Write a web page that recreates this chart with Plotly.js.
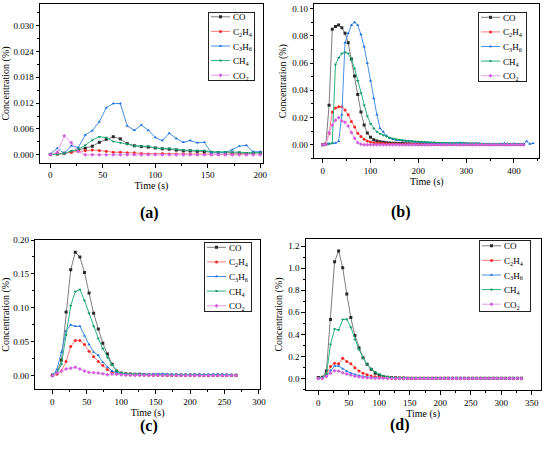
<!DOCTYPE html>
<html><head><meta charset="utf-8">
<script src="https://cdn.plot.ly/plotly-3.0.1.min.js"></script>
<style>html,body{margin:0;padding:0;background:#fff}#chart{width:550px;height:455px}</style>
</head><body><div id="chart"></div>
<script>
// time stamps (s), sampling interval ~6.67 s
const time = [0,6.7,13.3,20,26.7,33.3,40,46.7,53.3,60,66.7,73.3,80,86.7,93.3,100,106.7,113.3,120,126.7,133.3,140,146.7,153.3,160,166.7,173.3,180,186.7,193.3,200,206.7,213.3,220,226.7,233.3,240,246.7,253.3,260,266.7,273.3,280,286.7,293.3,300,306.7,313.3,320,326.7,333.3,340,346.7,353.3,360,366.7,373.3,380,386.7,393.3,400,406.7,413.3,420,426.7,433.3,440];

const seriesNames = ['CO','C<sub>2</sub>H<sub>4</sub>','C<sub>3</sub>H<sub>6</sub>','CH<sub>4</sub>','CO<sub>2</sub>'];

// (a)
const aCO   = [0.0001,0.0002,0.0004,0.0007,0.0011,0.0015,0.0020,0.0029,0.0036,0.0042,0.0037,0.0026,0.0021,0.0019,0.0018,0.0016,0.0014,0.0013,0.0011,0.0009,0.0009,0.0008,0.0007,0.0006,0.0005,0.0005,0.0004,0.0004,0.0003,0.0004,0.0005];
const aC2H4 = [0.0001,0.0002,0.0003,0.0006,0.0008,0.0010,0.0011,0.0010,0.0008,0.0006,0.0006,0.0005,0.0005,0.0003,0.0002,0.0002,0.0003,0.0002,0.0002,0.0002,0.0002,0.0001,0.0001,0.0001,0.0001,0.0001,0.0001,0.0001,0.0001];
const aC3H6 = [0.0002,0.0015,0.0003,0.0021,0.0017,0.0046,0.0056,0.0077,0.0109,0.0119,0.0119,0.0067,0.0057,0.0069,0.0057,0.0040,0.0033,0.0050,0.0038,0.0029,0.0033,0.0028,0.0029,0.0005,0.0005,0.0005,0.0012,0.0020,0.0022,0.0007,0.0007];
const aCH4  = [0.0001,0.0001,0.0003,0.0009,0.0013,0.0022,0.0034,0.0042,0.0040,0.0031,0.0028,0.0025,0.0021,0.0020,0.0020,0.0016,0.0015,0.0015,0.0013,0.0011,0.0010,0.0010,0.0010,0.0007,0.0007,0.0007,0.0006,0.0006,0.0005,0.0005,0.0005];
const aCO2  = [0.0000,0.0006,0.0044,0.0028,0.0008,0.0000,0.0000,0.0000,0.0000,0.0000,0.0000,0.0000,0.0000,0.0000,0.0000,0.0000,0.0000,0.0000,0.0000,0.0000,0.0000,0.0000,0.0000,0.0000,0.0000,0.0000,0.0000,0.0000,0.0000,0.0000,0.0000];

// (b)
const bCO   = [0,0.0005,0.029,0.085,0.087,0.088,0.086,0.082,0.075,0.063,0.0506,0.037,0.024,0.0145,0.0086,0.0054,0.0037,0.0028,0.0022,0.0018,0.0015,0.0013,0.0011,0.0010,0.0009,0.0008,0.0007,0.0007,0.0006,0.0006,0.0005,
               0.0005,0.0005,0.0004,0.0004,0.0004,0.0004,0.0004,0.0004,0.0004,0.0003,0.0003,0.0003,0.0003,0.0003,0.0003,0.0003,0.0003,0.0003,0.0003,0.0002,0.0002,0.0002,0.0002,0.0002,0.0002,0.0002,0.0002,0.0002,0.0002,0.0002,0.0002,0.0002,0.0002];
const bC2H4 = [0,0.0005,0.008,0.024,0.027,0.028,0.028,0.0255,0.022,0.017,0.013,0.0085,0.006,0.004,0.0028,0.002,0.0015,0.0012,0.0010,0.0008,0.0007,0.0006,0.0005,0.0005,0.0004,0.0004,0.0004,0.0003,0.0003,0.0003,0.0003,
               0.0002,0.0002,0.0002,0.0002,0.0002,0.0002,0.0002,0.0002,0.0002,0.0002,0.0002,0.0002,0.0002,0.0002,0.0002,0.0001,0.0001,0.0001,0.0001,0.0001,0.0001,0.0001,0.0001,0.0001,0.0001,0.0001,0.0001,0.0001,0.0001,0.0001,0.0001,0.0001,0.0001];
const bC3H6 = [0,0.0003,0.0008,0.0010,0.0012,0.0025,0.022,0.075,0.082,0.088,0.090,0.088,0.081,0.072,0.060,0.047,0.034,0.022,0.012,0.0095,0.0065,0.0050,0.0040,0.0035,0.0033,0.0030,0.0030,0.0028,0.0025,0.0022,0.0020,
               0.0018,0.0016,0.0015,0.0015,0.0014,0.0013,0.0012,0.0011,0.0011,0.0010,0.0010,0.0012,0.0015,0.0012,0.0010,0.0009,0.0008,0.0008,0.0008,0.0007,0.0007,0.0007,0.0006,0.0006,0.0006,0.0008,0.0010,0.0007,0.0006,0.0008,0.0006,0.0005,0.0005,0.0025,0.0005,0.0010];
const bCH4  = [0,0.0002,0.0005,0.0010,0.059,0.064,0.067,0.068,0.067,0.063,0.056,0.047,0.038,0.029,0.021,0.0155,0.012,0.0095,0.008,0.007,0.006,0.0052,0.0045,0.0040,0.0036,0.0033,0.0030,0.0028,0.0026,0.0024,0.0022,
               0.0020,0.0019,0.0018,0.0017,0.0016,0.0015,0.0014,0.0013,0.0013,0.0012,0.0011,0.0011,0.0010,0.0010,0.0009,0.0009,0.0008,0.0008,0.0008,0.0007,0.0007,0.0007,0.0006,0.0006,0.0006,0.0006,0.0005,0.0005,0.0005,0.0005,0.0004,0.0004,0.0004];
const bCO2  = [0,0.0003,0.009,0.0145,0.018,0.020,0.0175,0.0165,0.0137,0.009,0.0048,0.0015,0.0003,0,0,0,0,0,0,0,0,0,0,0,0,0,0,0,0,0,0,
               0,0,0,0,0,0,0,0,0,0,0,0,0,0,0,0,0,0,0,0,0,0,0,0,0,0,0,0,0,0,0,0,0];

// (c)
const cCO   = [0.001,0.004,0.023,0.094,0.156,0.182,0.175,0.152,0.122,0.092,0.069,0.048,0.032,0.017,0.007,0.004,0.003,0.0025,0.002,0.002,0.0018,0.0016,0.0015,0.0014,0.0013,0.0012,0.0012,0.0011,0.0010,0.0010,0.0010,0.0009,0.0009,0.0008,0.0008,0.0008,0.0007,0.0007,0.0007,0.0006,0.0006];
const cC2H4 = [0,0.002,0.007,0.021,0.043,0.052,0.052,0.046,0.036,0.028,0.021,0.015,0.009,0.005,0.003,0.002,0.0015,0.0012,0.0010,0.0009,0.0008,0.0007,0.0006,0.0006,0.0005,0.0005,0.0004,0.0004,0.0004,0.0003,0.0003,0.0003,0.0003,0.0002,0.0002,0.0002,0.0002,0.0002,0.0002,0.0002,0.0002];
const cC3H6 = [0,0.009,0.035,0.066,0.075,0.073,0.073,0.059,0.046,0.035,0.030,0.020,0.013,0.007,0.0045,0.003,0.0025,0.002,0.002,0.0018,0.0015,0.0018,0.0020,0.0025,0.0030,0.0022,0.0020,0.0018,0.0015,0.0015,0.0015,0.0018,0.0020,0.0020,0.0018,0.0020,0.0025,0.0020,0.0018,0.0015];
const cCH4  = [0,0.004,0.017,0.060,0.103,0.124,0.127,0.111,0.092,0.073,0.055,0.040,0.027,0.016,0.007,0.004,0.003,0.0025,0.002,0.0018,0.0016,0.0015,0.0014,0.0013,0.0012,0.0011,0.0010,0.0010,0.0009,0.0009,0.0008,0.0008,0.0007,0.0007,0.0007,0.0006,0.0006,0.0006,0.0005,0.0005,0.0005];
const cCO2  = [0,0.004,0.007,0.010,0.011,0.0125,0.010,0.007,0.005,0.0045,0.004,0.003,0.0015,0.0025,0.002,0.0015,0.0010,0.0010,0.0008,0.0008,0.0007,0.0007,0.0006,0.0006,0.0006,0.0005,0.0005,0.0005,0.0005,0.0004,0.0004,0.0004,0.0004,0.0004,0.0003,0.0003,0.0003,0.0003,0.0003,0.0003,0.0003];

// (d)
const dCO   = [0.010,0.012,0.070,0.535,1.058,1.155,1.004,0.765,0.553,0.390,0.280,0.190,0.130,0.085,0.050,0.030,0.020,0.014,0.010,0.008,0.007,0.006,0.005,0.005,0.004,0.004,0.004,
               0.003,0.003,0.003,0.003,0.003,0.003,0.003,0.003,0.003,0.003,0.003,0.003,0.003,0.003,0.003,0.003,0.003,0.003,0.003,0.003,0.003,0.003,0.003,0.003];
const dC2H4 = [0.003,0.005,0.040,0.110,0.140,0.135,0.185,0.155,0.135,0.100,0.070,0.050,0.035,0.025,0.017,0.012,0.008,0.006,0.005,0.004,0.004,0.003,0.003,
               0.002,0.002,0.002,0.002,0.002,0.002,0.002,0.002,0.002,0.002,0.002,0.002,0.002,0.002,0.002,0.002,0.002,0.002,0.002,0.002,0.002,0.002,0.002,0.002,0.002,0.002,0.002,0.002];
const dC3H6 = [0.002,0.004,0.025,0.075,0.115,0.115,0.090,0.068,0.050,0.037,0.028,0.020,0.014,0.010,0.007,0.005,0.004,0.003,0.003,
               0.002,0.002,0.002,0.002,0.002,0.002,0.002,0.002,0.002,0.002,0.002,0.002,0.002,0.002,0.002,0.002,0.002,0.002,0.002,0.002,0.002,0.002,0.002,0.002,0.002,0.002,0.002,0.002,0.002,0.002,0.002,0.002];
const dCH4  = [0.005,0.010,0.040,0.310,0.450,0.440,0.535,0.537,0.465,0.355,0.265,0.190,0.130,0.090,0.060,0.040,0.025,0.017,0.012,0.009,0.007,0.006,0.005,0.005,0.004,0.004,
               0.003,0.003,0.003,0.003,0.003,0.003,0.003,0.003,0.003,0.003,0.003,0.003,0.003,0.003,0.003,0.003,0.003,0.003,0.003,0.003,0.003,0.003,0.003,0.003,0.003];
const dCO2  = [0.001,0.003,0.020,0.050,0.072,0.068,0.054,0.042,0.032,0.022,0.016,0.011,0.008,0.006,0.004,0.003,0.003,
               0.002,0.002,0.002,0.002,0.002,0.002,0.002,0.002,0.002,0.002,0.002,0.002,0.002,0.002,0.002,0.002,0.002,0.002,0.002,0.002,0.002,0.002,0.002,0.002,0.002,0.002,0.002,0.002,0.002,0.002,0.002,0.002,0.002,0.002];

const panelLabels = ['(a)','(b)','(c)','(d)'];

// styles
const lineColors   = ['rgb(125,125,125)','rgb(255,125,125)','rgb(70,145,230)','rgb(40,180,125)','rgb(232,160,236)'];
const markerColors = ['rgb(40,40,40)','rgb(245,40,40)','rgb(30,110,220)','rgb(15,150,100)','rgb(210,95,222)'];
const symbols = ['square','circle','triangle-up','triangle-down','diamond'];
const SERIF = 'Liberation Serif, Times New Roman, serif';

const W = 550, H = 455;
const panels = [
  {ax:'',  leg:'legend',  data:[aCO,aC2H4,aC3H6,aCH4,aCO2],
   box:[40,263,4,163],   xr:[-9.8,202.6], yr:[-0.0019,0.0350], xd:50, yd:0.006, yfmt:'.3f', legBox:[208,12,46,68], lab:[138,213]},
  {ax:'2', leg:'legend2', data:[bCO,bC2H4,bC3H6,bCH4,bCO2],
   box:[314.3,539.3,4,158.3], xr:[-17.6,453], yr:[-0.010,0.1035], xd:100, yd:0.02, yfmt:'.2f', legBox:[478,12,48,69], lab:[413,212]},
  {ax:'3', leg:'legend3', data:[cCO,cC2H4,cC3H6,cCH4,cCO2],
   box:[35.3,260,240,389.3], xr:[-24.7,301.5], yr:[-0.02,0.20], xd:50, yd:0.05, yfmt:'.2f', legBox:[204,242,47,69], lab:[138,437]},
  {ax:'4', leg:'legend4', data:[dCO,dC2H4,dC3H6,dCH4,dCO2],
   box:[305.7,540.7,238.7,390.3], xr:[-20.7,364.8], yr:[-0.105,1.266], xd:50, yd:0.2, yfmt:'.1f', legBox:[479,239.5,51,71], lab:[412,436]}
];

const traces = [];
const layout = {
  width:W, height:H, margin:{l:0,r:0,t:0,b:0},
  paper_bgcolor:'#fff', plot_bgcolor:'#fff',
  font:{family:SERIF, color:'#000'},
  annotations:[]
};

const tickFont = {family:SERIF, size:9, color:'#000'};
const titleFont = {family:SERIF, size:10, color:'#000'};

panels.forEach((p, pi) => {
  p.data.forEach((vals, si) => {
    traces.push({
      type:'scatter', mode:'lines+markers',
      x: time.slice(0, vals.length), y: vals,
      xaxis:'x'+p.ax, yaxis:'y'+p.ax,
      name: seriesNames[si], legend: p.leg,
      line:{color:lineColors[si], width:1},
      marker:{symbol:symbols[si], size:3, color:markerColors[si]}
    });
  });
  const common = {
    showline:true, linecolor:'#000', linewidth:1, mirror:true,
    ticks:'outside', ticklen:3.5, tickwidth:1, tickcolor:'#000',
    showgrid:false, zeroline:false, tickfont:tickFont, fixedrange:true
  };
  layout['xaxis'+p.ax] = Object.assign({}, common, {
    domain:[p.box[0]/W, p.box[1]/W], range:p.xr, anchor:'y'+p.ax,
    tick0:0, dtick:p.xd,
    minor:{ticks:'outside', ticklen:2, tickcolor:'#000', dtick:p.xd/2, tick0:0, showgrid:false},
    title:{text:'Time (s)', font:titleFont, standoff:1}
  });
  layout['yaxis'+p.ax] = Object.assign({}, common, {
    domain:[1-p.box[3]/H, 1-p.box[2]/H], range:p.yr, anchor:'x'+p.ax,
    tick0:0, dtick:p.yd, tickformat:p.yfmt,
    minor:{ticks:'outside', ticklen:2, tickcolor:'#000', dtick:p.yd/2, tick0:0, showgrid:false},
    title:{text:'Concentration (%)', font:titleFont, standoff:3}
  });
  layout[p.leg] = {
    x:p.legBox[0]/W, y:1-p.legBox[1]/H, xanchor:'left', yanchor:'top',
    xref:'paper', yref:'paper',
    bgcolor:'#fff', bordercolor:'#222', borderwidth:1,
    font:{family:SERIF, size:9, color:'#000'},
    itemwidth:30, tracegroupgap:0, traceorder:'normal'
  };
  layout.annotations.push({
    xref:'paper', yref:'paper', x:p.lab[0]/W, y:1-p.lab[1]/H,
    text:'<b>'+panelLabels[pi]+'</b>', showarrow:false,
    font:{family:SERIF, size:16, color:'#000'}
  });
});

// Compact the legend boxes to the reference's tight Origin-style layout.
function compactLegends() {
  const gd = document.getElementById('chart');
  const lineX0 = 3, lineLen = 19, textX = 25, plotlyTextX = 40;
  const shift = textX - plotlyTextX;
  panels.forEach(p => {
    const lg = gd.querySelector('g.' + p.leg);
    if (!lg) return;
    const w = p.legBox[2], h = p.legBox[3];
    const items = lg.querySelectorAll('g.traces');
    const n = items.length;
    const rowH = 14.6, firstY = (h - rowH * (n - 1)) / 2;
    items.forEach((it, i) => {
      it.setAttribute('transform', 'translate(' + shift + ',' + (firstY + rowH * i) + ')');
      it.querySelectorAll('g.legendlines path').forEach(ln => ln.setAttribute('d', 'M' + (lineX0 - shift) + ',0h' + lineLen));
      it.querySelectorAll('g.legendsymbols path').forEach(s => s.setAttribute('transform', 'translate(' + (lineX0 - shift + lineLen / 2) + ',0)'));
    });
    const bg = lg.querySelector('rect.bg');
    if (bg) { bg.setAttribute('width', w); bg.setAttribute('height', h); }
    lg.setAttribute('transform', 'translate(' + p.legBox[0] + ',' + p.legBox[1] + ')');
  });
}

// Give subscript pieces an absolute size and fold the empty baseline-reset
// pieces into the text that follows them.
function tidySubscripts() {
  document.querySelectorAll('#chart text.legendtext').forEach(tx => {
    const base = parseFloat(getComputedStyle(tx).fontSize) || 9;
    Array.from(tx.querySelectorAll('tspan')).forEach(ts => {
      const fs = ts.style.fontSize;
      if (fs && fs.indexOf('%') >= 0) ts.style.fontSize = (base * parseFloat(fs) / 100).toFixed(2) + 'px';
      const content = ts.textContent.replace(/\u200b/g, '');
      if (content === '' && ts.childElementCount === 0) {
        const nx = ts.nextSibling;
        if (nx && nx.nodeType === 3 && nx.textContent.replace(/\u200b/g, '') !== '') {
          ts.textContent = nx.textContent; nx.parentNode.removeChild(nx);
        } else {
          ts.parentNode.removeChild(ts);
        }
      }
    });
  });
}

function finish() { compactLegends(); tidySubscripts(); }

Plotly.newPlot('chart', traces, layout, {displayModeBar:false, staticPlot:true}).then(() => {
  finish();
  setTimeout(finish, 30);
  setTimeout(finish, 200);
  setTimeout(finish, 600);
});
</script></body></html>
